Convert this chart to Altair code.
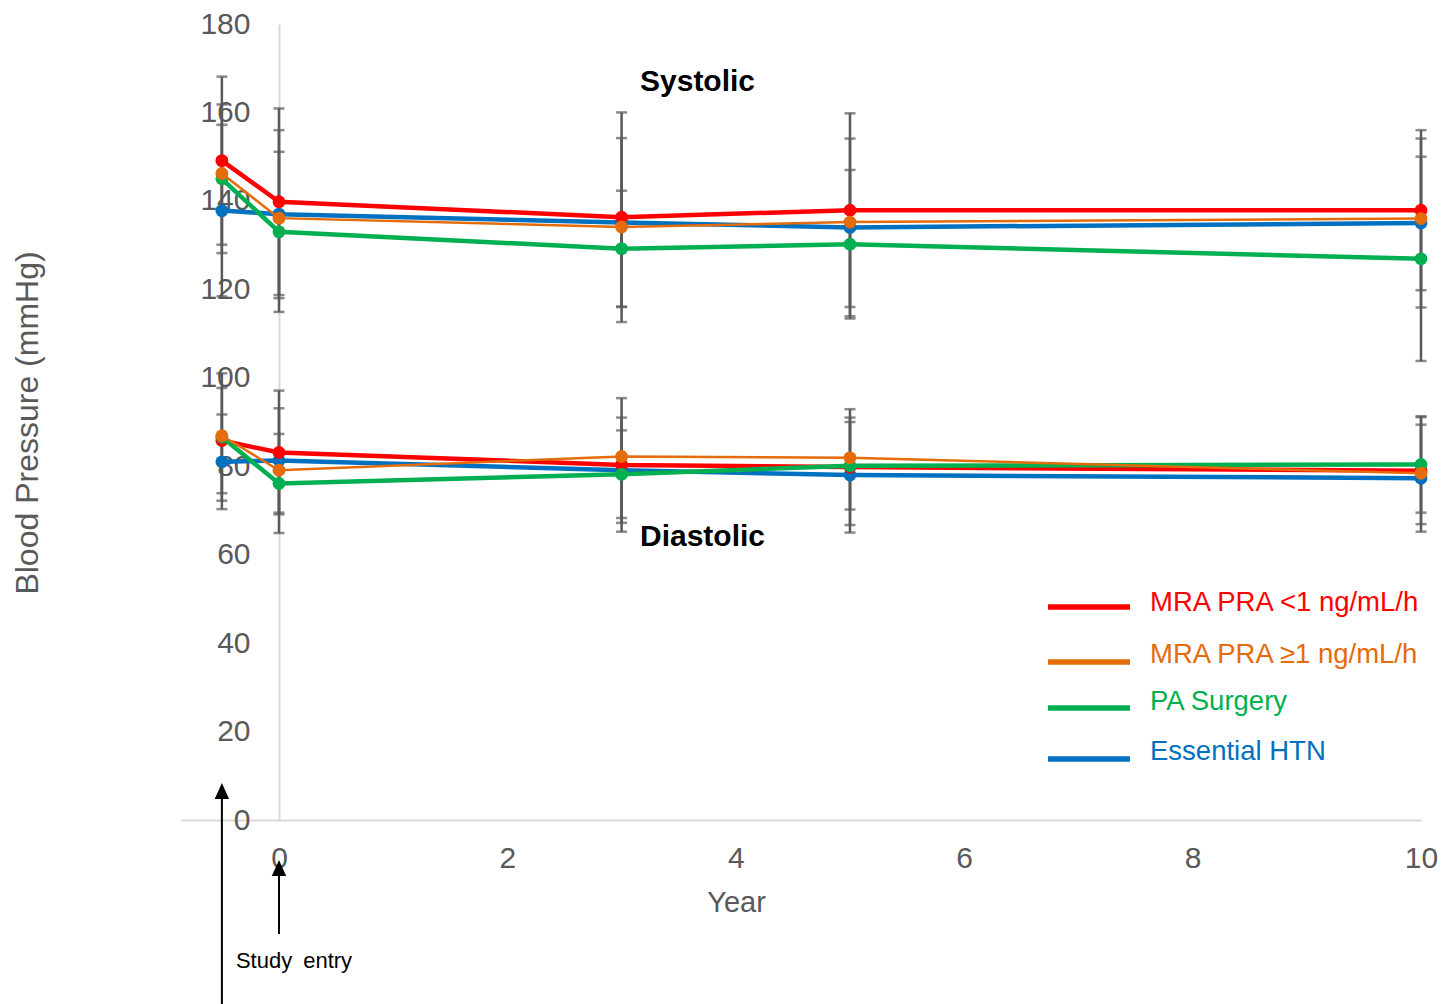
import altair as alt
import pandas as pd

FONT = "Liberation Sans"
GREY = "#595959"

years = [-0.5, 0, 3, 5, 10]
series = ["MRA PRA <1 ng/mL/h", "MRA PRA \u22651 ng/mL/h", "PA Surgery", "Essential HTN"]
colors = ["#FF0000", "#E46C0A", "#00B050", "#0070C0"]

# Systolic blood pressure, mean (mmHg)
sbp_low_pra = [149.1, 139.8, 136.3, 137.9, 137.9]
sbp_high_pra = [146.2, 136.1, 134.1, 135.2, 136.0]
sbp_surgery = [145.0, 133.0, 129.2, 130.2, 126.9]
sbp_essential = [137.8, 137.0, 135.1, 134.0, 135.0]

# Systolic blood pressure, SD (mmHg); no bars for the PRA >=1 group
sbp_sd_low_pra = [19.0, 21.1, 23.7, 21.9, 18.1]
sbp_sd_surgery = [16.8, 18.1, 13.1, 16.8, 23.1]
sbp_sd_essential = [19.4, 19.0, 19.1, 20.1, 19.1]

# Diastolic blood pressure, mean (mmHg)
dbp_low_pra = [85.8, 83.1, 80.3, 79.8, 79.0]
dbp_high_pra = [86.9, 79.1, 82.2, 81.9, 78.4]
dbp_surgery = [86.6, 76.1, 78.2, 80.1, 80.4]
dbp_essential = [81.0, 81.3, 79.1, 78.0, 77.3]

# Diastolic blood pressure, SD (mmHg)
dbp_sd_low_pra = [11.9, 14.0, 15.1, 13.1, 12.1]
dbp_sd_surgery = [14.4, 11.2, 9.9, 9.9, 10.9]
dbp_sd_essential = [10.7, 11.8, 11.9, 13.0, 12.1]

y_ticks = [0, 20, 40, 60, 80, 100, 120, 140, 160, 180]
x_ticks = [0, 2, 4, 6, 8, 10]

means = {
    series[0]: (sbp_low_pra, dbp_low_pra),
    series[1]: (sbp_high_pra, dbp_high_pra),
    series[2]: (sbp_surgery, dbp_surgery),
    series[3]: (sbp_essential, dbp_essential),
}
sds = {
    series[0]: (sbp_sd_low_pra, dbp_sd_low_pra),
    series[2]: (sbp_sd_surgery, dbp_sd_surgery),
    series[3]: (sbp_sd_essential, dbp_sd_essential),
}

line_rows = []
for name, (sbp, dbp) in means.items():
    for phase, vals in (("Systolic", sbp), ("Diastolic", dbp)):
        for yr, v in zip(years, vals):
            line_rows.append({"series": name, "phase": phase, "year": yr, "mean": v})
lines_df = pd.DataFrame(line_rows)

err_rows = []
for name, (sbp_sd, dbp_sd) in sds.items():
    sbp, dbp = means[name]
    for phase, mv, sv in (("Systolic", sbp, sbp_sd), ("Diastolic", dbp, dbp_sd)):
        for yr, m, s in zip(years, mv, sv):
            err_rows.append({"series": name, "phase": phase, "year": yr,
                             "lo": round(m - s, 2), "hi": round(m + s, 2)})
err_df = pd.DataFrame(err_rows)

W, H = 1240, 796
x_scale = alt.Scale(domain=[-0.858, 10], nice=False, zero=False)
y_scale = alt.Scale(domain=[0, 180], nice=False, zero=True)

x_axis = alt.Axis(
    values=x_ticks, format="d", ticks=False, grid=False, labelFlush=False,
    domainColor="#D9D9D9", domainWidth=2,
    labelFont=FONT, labelFontSize=30, labelColor=GREY, labelPadding=23,
    title="Year", titleFont=FONT, titleFontSize=29, titleFontWeight="normal",
    titleColor=GREY, titleX=555, titleY=82, titleAlign="center", titleBaseline="middle",
)
y_axis = alt.Axis(
    values=y_ticks, format="d", ticks=False, grid=False, labelFlush=False,
    offset=-98, domainColor="#D9D9D9", domainWidth=2,
    labelFont=FONT, labelFontSize=30, labelColor=GREY, labelPadding=29,
    title=None,
)


def X():
    return alt.X("year:Q", scale=x_scale, axis=x_axis)


def Y(field):
    return alt.Y(f"{field}:Q", scale=y_scale, axis=y_axis)


layers = []

# error bars (SD), drawn beneath the series
layers.append(
    alt.Chart(err_df).mark_rule(color=GREY, strokeWidth=2.5).encode(
        x=X(), y=Y("lo"), y2="hi"
    )
)
for end in ("lo", "hi"):
    layers.append(
        alt.Chart(err_df).mark_tick(color=GREY, orient="horizontal", size=11, thickness=2.5).encode(
            x=X(), y=Y(end)
        )
    )

# series lines and markers
draw_order = [3, 0, 2, 1]
for i in draw_order:
    name = series[i]
    df = lines_df[lines_df["series"] == name]
    width = 2.5 if i == 1 else 4.5
    layers.append(
        alt.Chart(df).mark_line(color=colors[i], strokeWidth=width).encode(
            x=X(), y=Y("mean"), detail="phase:N"
        )
    )
    layers.append(
        alt.Chart(df).mark_circle(color=colors[i], size=165, opacity=1).encode(
            x=X(), y=Y("mean")
        )
    )

one = pd.DataFrame({"k": [0]})

# panel labels
for label, ypix in (("Systolic", 58), ("Diastolic", 513)):
    layers.append(
        alt.Chart(one).mark_text(
            text=label, font=FONT, fontSize=30, fontWeight="bold", color="black",
            align="left", baseline="middle",
        ).encode(x=alt.value(459), y=alt.value(ypix))
    )

# y-axis title
layers.append(
    alt.Chart(one).mark_text(
        text="Blood Pressure (mmHg)", font=FONT, fontSize=32, color=GREY,
        angle=270, align="center", baseline="middle",
    ).encode(x=alt.value(-153), y=alt.value(399))
)

# legend
legend_line_y = [583, 638, 684, 735]
legend_text_y = [579, 631, 678, 728]
for i, name in enumerate(series):
    layers.append(
        alt.Chart(one).mark_rule(color=colors[i], strokeWidth=5.5).encode(
            x=alt.value(867), x2=alt.value(949), y=alt.value(legend_line_y[i])
        )
    )
    layers.append(
        alt.Chart(one).mark_text(
            text=name, font=FONT, fontSize=27.5, color=colors[i],
            align="left", baseline="middle",
        ).encode(x=alt.value(969), y=alt.value(legend_text_y[i]))
    )

# arrows marking the baseline and study entry
arrow_head = "M0,-1L0.9,1L-0.9,1Z"
baseline_df = pd.DataFrame({"year": [-0.5]})
entry_df = pd.DataFrame({"year": [0]})
layers.append(
    alt.Chart(baseline_df).mark_rule(color="black", strokeWidth=2).encode(
        x=X(), y=alt.value(767), y2=alt.value(990)
    )
)
layers.append(
    alt.Chart(baseline_df).mark_point(shape=arrow_head, filled=True, color="black",
                                      size=256, opacity=1).encode(
        x=X(), y=alt.value(767)
    )
)
layers.append(
    alt.Chart(entry_df).mark_rule(color="black", strokeWidth=2).encode(
        x=X(), y=alt.value(844), y2=alt.value(910)
    )
)
layers.append(
    alt.Chart(entry_df).mark_point(shape=arrow_head, filled=True, color="black",
                                   size=256, opacity=1).encode(
        x=X(), y=alt.value(844)
    )
)
layers.append(
    alt.Chart(one).mark_text(
        text="Study\u2002entry", font=FONT, fontSize=22, color="black",
        align="center", baseline="middle",
    ).encode(x=alt.value(113), y=alt.value(937))
)

chart = alt.layer(*layers).properties(
    width=W, height=H,
    padding={"left": 181, "top": 24, "right": 22, "bottom": 184},
    autosize=alt.AutoSizeParams(type="none"),
    background="white",
).configure_view(stroke=None)

chart.save("out.html", embed_options={"renderer": "svg", "actions": False})
